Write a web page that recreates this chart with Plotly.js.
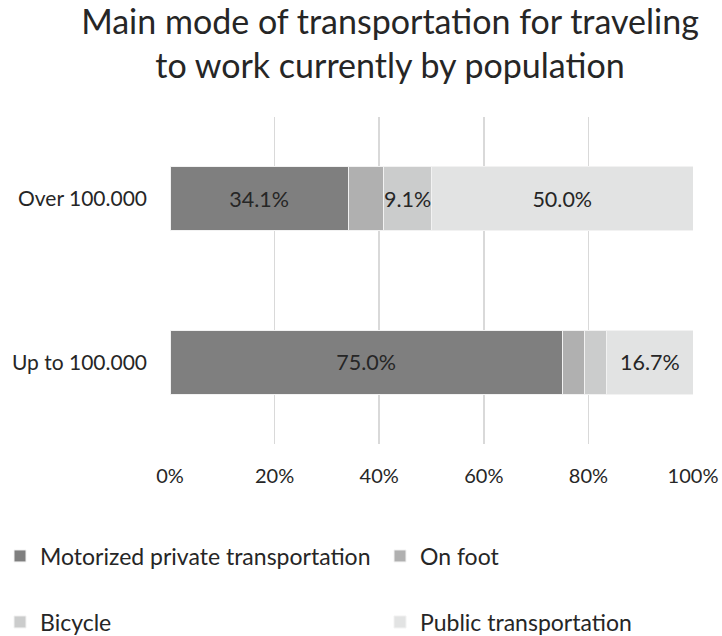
<!DOCTYPE html>
<html>
<head>
<meta charset="utf-8">
<script src="https://cdn.plot.ly/plotly-3.0.1.min.js"></script>
<style>html,body{margin:0;padding:0;background:#fff;}#chart{width:722px;height:636px;}</style>
</head>
<body>
<div id="chart"></div>
<script>
// Data
const categories = ['Up to 100.000', 'Over 100.000'];
const seriesNames = ['Motorized private transportation', 'On foot', 'Bicycle', 'Public transportation'];
const motorized = [75.0, 34.1];
const onFoot = [4.2, 6.8];
const bicycle = [4.2, 9.1];
const publicTransport = [16.7, 50.0];
// which segments carry a visible data label
const showMotorized = [true, true];
const showOnFoot = [false, false];
const showBicycle = [false, true];
const showPublic = [true, true];
const xTickVals = [0, 20, 40, 60, 80, 100];
const xTickText = ['0%', '20%', '40%', '60%', '80%', '100%'];

const colors = ['#7f7f7f', '#b0b0b0', '#cbcccc', '#e2e3e3'];
const FONT = 'Lato, "Open Sans", sans-serif';
const values = [motorized, onFoot, bicycle, publicTransport];
const shows = [showMotorized, showOnFoot, showBicycle, showPublic];
const legendIds = ['legend', 'legend2', 'legend3', 'legend4'];

const traces = values.map((v, i) => ({
  type: 'bar',
  orientation: 'h',
  name: seriesNames[i],
  y: categories,
  x: v,
  marker: {color: colors[i], line: {color: '#f2f2f2', width: 1}},
  text: v.map((d, j) => shows[i][j] ? d.toFixed(1) + '%' : ''),
  textposition: 'inside',
  insidetextanchor: 'middle',
  constraintext: 'none',
  textangle: 0,
  textfont: {family: FONT, size: 21.5, color: '#262626'},
  hoverinfo: 'name+x',
  legend: legendIds[i]
}));

function legendAt(xpx, ypx) {
  return {
    orientation: 'h',
    xref: 'container', yref: 'container',
    x: xpx / 722, xanchor: 'left',
    y: 1 - ypx / 636, yanchor: 'middle',
    font: {family: FONT, size: 23, color: '#262626'},
    itemclick: false, itemdoubleclick: false,
    bgcolor: 'rgba(0,0,0,0)',
    borderwidth: 0
  };
}

const layout = {
  width: 722, height: 636,
  margin: {l: 170, r: 29, t: 117, b: 192},
  paper_bgcolor: '#ffffff',
  plot_bgcolor: '#ffffff',
  barmode: 'stack',
  bargap: 0.61,
  font: {family: FONT, color: '#262626'},
  title: {
    text: 'Main mode of transportation for traveling<br>to work currently by population',
    font: {family: FONT, size: 34, color: '#262626'},
    xref: 'container', yref: 'container',
    x: 390 / 722, xanchor: 'center',
    y: 1 - 34 / 636, yanchor: 'middle'
  },
  xaxis: {
    range: [0, 100],
    tickvals: xTickVals,
    ticktext: xTickText,
    showgrid: true,
    gridcolor: '#d9d9d9',
    gridwidth: 1.5,
    zeroline: false,
    showline: false,
    ticks: '',
    ticklabelstandoff: 18,
    tickfont: {family: FONT, size: 20, color: '#262626'},
    fixedrange: true
  },
  yaxis: {
    showgrid: false,
    zeroline: false,
    showline: false,
    ticks: '',
    ticklabelstandoff: 22,
    tickfont: {family: FONT, size: 21, color: '#262626'},
    fixedrange: true
  },
  legend: legendAt(-3, 556),
  legend2: legendAt(380, 556),
  legend3: legendAt(-3, 622),
  legend4: legendAt(380, 622),
  showlegend: true
};

Plotly.newPlot('chart', traces, layout, {displayModeBar: false, staticPlot: true});
</script>
</body>
</html>
